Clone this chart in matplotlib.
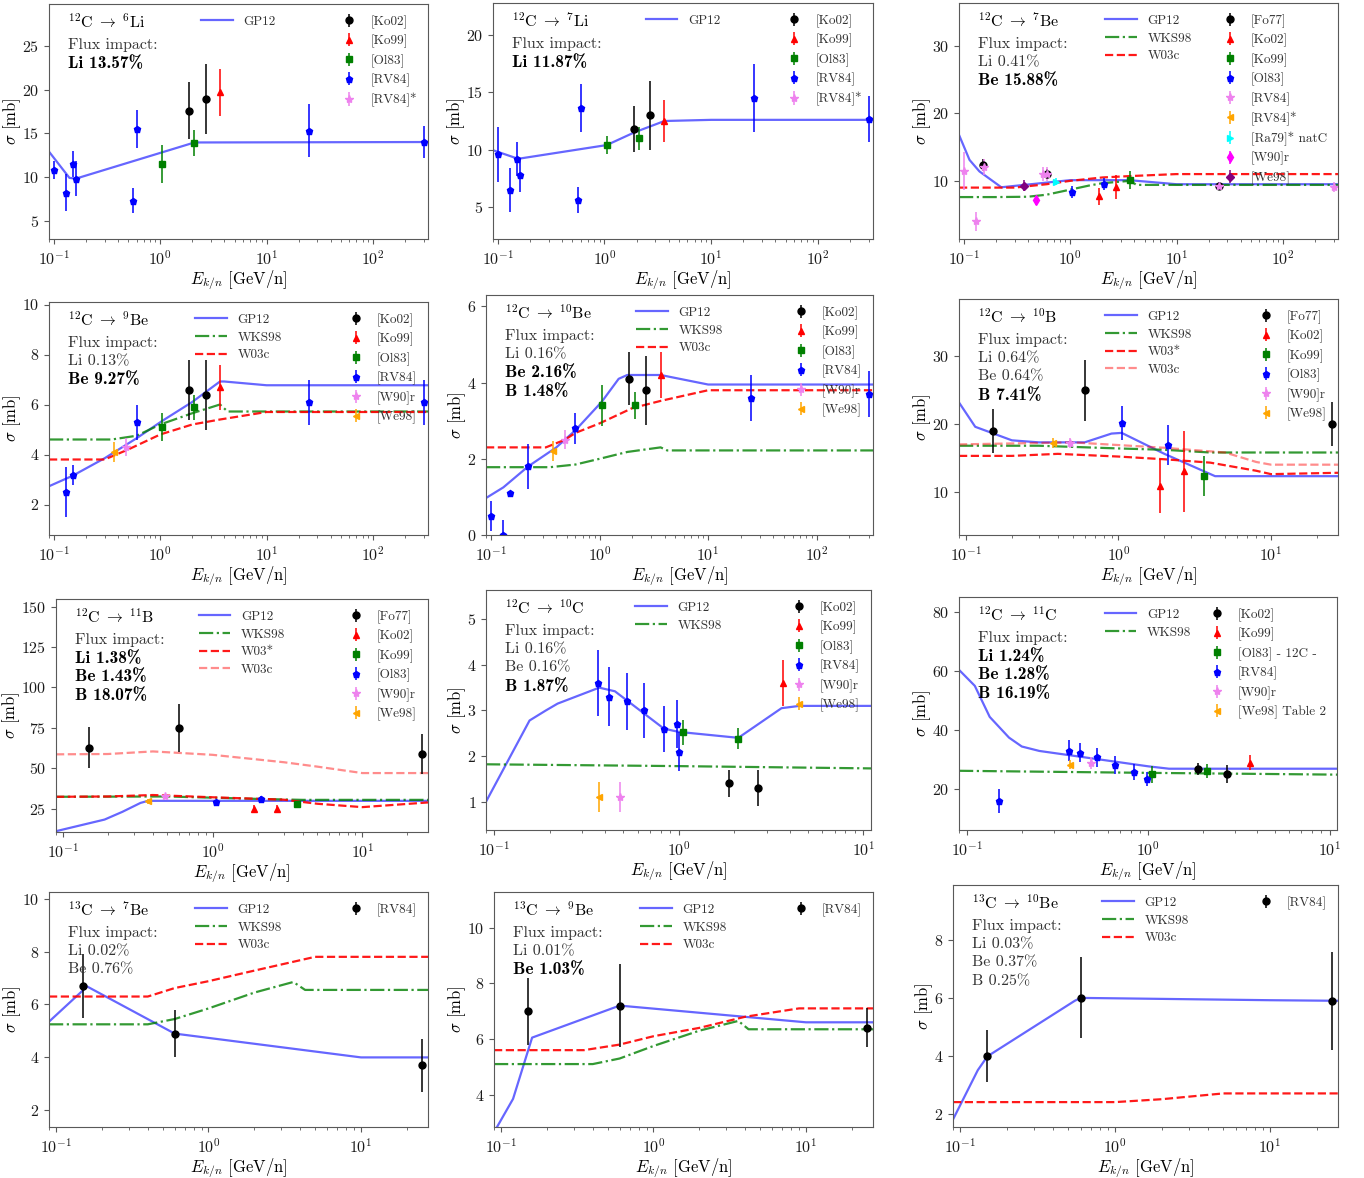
import matplotlib
matplotlib.use("Agg")
import matplotlib.pyplot as plt
from matplotlib.ticker import MultipleLocator

plt.rcParams.update({
    "font.family": "serif",
    "font.serif": ["cmr10"],
    "mathtext.fontset": "cm",
    "axes.unicode_minus": False,
    "axes.formatter.use_mathtext": True,
    "font.size": 10,
    "axes.edgecolor": "0.35",
    "xtick.color": "0.35",
    "ytick.color": "0.35",
    "xtick.labelcolor": "0.1",
    "ytick.labelcolor": "0.1",
})

# ---------------- 12C -> 6Li
li6_gp12_e = [0.09, 0.14, 0.16, 2.1, 330]
li6_gp12_s = [12.9, 9.9, 9.8, 13.95, 14.0]
li6_data = [
    ("[Ko02]", [1.88, 2.7], [17.6, 18.9], [3.3, 4.0]),
    ("[Ko99]", [3.65], [19.7], [2.7]),
    ("[Ol83]", [1.05, 2.1], [11.5, 13.9], [2.2, 1.5]),
    ("[RV84]", [0.1, 0.13, 0.15, 0.16, 0.56, 0.6, 25, 300],
     [10.8, 8.2, 11.5, 9.8, 7.3, 15.5, 15.3, 14.0],
     [1.0, 2.1, 1.5, 2.0, 1.4, 2.2, 3.0, 1.8]),
    ("[RV84]*", [], [], []),
]

# ---------------- 12C -> 7Li
li7_gp12_e = [0.09, 0.155, 1.05, 1.9, 3.65, 10, 330]
li7_gp12_s = [9.95, 9.2, 10.4, 11.5, 12.5, 12.6, 12.6]
li7_data = [
    ("[Ko02]", [1.88, 2.7], [11.8, 13.0], [2.0, 3.0]),
    ("[Ko99]", [3.65], [12.5], [1.8]),
    ("[Ol83]", [1.05, 2.1], [10.4, 11.0], [0.8, 1.0]),
    ("[RV84]", [0.1, 0.13, 0.15, 0.16, 0.56, 0.6, 25, 300],
     [9.6, 6.5, 9.2, 7.8, 5.6, 13.6, 14.5, 12.7],
     [2.4, 1.9, 1.5, 1.5, 1.1, 2.1, 3.0, 2.0]),
    ("[RV84]*", [], [], []),
]

# ---------------- 12C -> 7Be
be7_gp12_e = [0.09, 0.113, 0.14, 0.225, 1.0, 3.6, 10, 330]
be7_gp12_s = [16.8, 13.1, 11.4, 9.05, 10.1, 10.1, 9.5, 9.5]
be7_wks98_e = [0.09, 0.2, 0.4, 0.6, 1.0, 1.5, 2.0, 3.65, 4.2, 330]
be7_wks98_s = [7.6, 7.6, 7.65, 7.95, 8.7, 9.3, 9.65, 10.0, 9.4, 9.4]
be7_w03c_e = [0.09, 0.3, 0.6, 1.0, 2.0, 3.6, 10, 330]
be7_w03c_s = [9.0, 9.0, 9.5, 10.0, 10.5, 10.7, 11.0, 11.0]
be7_data = [
    ("[Fo77]", [0.15, 0.6, 25], [12.3, 11.0, 9.2], [0.9, 0.8, 0.6]),
    ("[Ko02]", [1.88, 2.7], [7.7, 9.1], [1.3, 1.8]),
    ("[Ko99]", [3.65], [10.1], [1.3]),
    ("[Ol83]", [1.05, 2.1], [8.4, 9.5], [0.9, 0.9]),
    ("[RV84]", [0.1, 0.13, 0.155, 0.56, 0.6, 25, 300],
     [11.5, 4.0, 12.0, 11.0, 11.0, 9.2, 9.1],
     [2.8, 1.4, 1.2, 1.0, 1.0, 0.6, 0.8]),
    ("[RV84]*", [], [], []),
    ("[Ra79]* natC", [0.73], [9.9], [0.5]),
    ("[W90]r", [0.48], [7.1], [0.6]),
    ("[We98]", [0.37], [9.3], [0.8]),
]

# ---------------- 12C -> 9Be
be9_gp12_e = [0.09, 0.15, 0.3, 0.6, 1.05, 2.0, 3.65, 4.0, 10, 330]
be9_gp12_s = [2.73, 3.15, 3.85, 4.65, 5.35, 6.1, 6.92, 6.92, 6.77, 6.77]
be9_wks98_e = [0.09, 0.35, 0.6, 1.0, 2.0, 3.65, 4.3, 330]
be9_wks98_s = [4.6, 4.6, 4.75, 5.2, 5.65, 6.0, 5.72, 5.72]
be9_w03c_e = [0.09, 0.3, 0.5, 1.0, 2.0, 3.65, 10, 330]
be9_w03c_s = [3.8, 3.8, 4.2, 4.8, 5.2, 5.4, 5.7, 5.7]
be9_data = [
    ("[Ko02]", [1.88, 2.7], [6.6, 6.4], [1.2, 1.4]),
    ("[Ko99]", [3.65], [6.7], [0.9]),
    ("[Ol83]", [1.05, 2.1], [5.1, 5.9], [0.55, 0.5]),
    ("[RV84]", [0.13, 0.15, 0.6, 25, 300], [2.5, 3.2, 5.3, 6.1, 6.1],
     [1.0, 0.4, 0.7, 0.9, 0.9]),
    ("[W90]r", [0.48], [4.3], [0.35]),
    ("[We98]", [0.37], [4.1], [0.4]),
]

# ---------------- 12C -> 10Be
be10_gp12_e = [0.09, 0.13, 0.22, 0.4, 0.6, 1.05, 1.5, 1.8, 3.65, 10, 330]
be10_gp12_s = [0.97, 1.25, 1.8, 2.3, 2.75, 3.5, 4.1, 4.2, 4.2, 3.95, 3.95]
be10_wks98_e = [0.09, 0.35, 0.6, 1.0, 1.8, 3.65, 4.2, 330]
be10_wks98_s = [1.78, 1.78, 1.85, 2.0, 2.18, 2.3, 2.22, 2.22]
be10_w03c_e = [0.09, 0.32, 0.48, 0.6, 1.0, 2.0, 3.65, 10, 330]
be10_w03c_s = [2.3, 2.3, 2.5, 2.68, 2.93, 3.33, 3.52, 3.8, 3.8]
be10_data = [
    ("[Ko02]", [1.88, 2.7], [4.1, 3.8], [0.7, 0.9]),
    ("[Ko99]", [3.65], [4.2], [0.6]),
    ("[Ol83]", [1.05, 2.1], [3.4, 3.4], [0.55, 0.35]),
    ("[RV84]", [0.1, 0.13, 0.15, 0.22, 0.6, 25, 300],
     [0.5, 0.0, 1.1, 1.8, 2.8, 3.6, 3.7],
     [0.4, 0.4, 0.05, 0.6, 0.4, 0.6, 0.6]),
    ("[W90]r", [0.48], [2.5], [0.25]),
    ("[We98]", [0.37], [2.2], [0.26]),
]

# ---------------- 12C -> 10B
b10_gp12_e = [0.09, 0.115, 0.2, 0.3, 0.6, 0.9, 1.05, 2.0, 4.3, 27.5]
b10_gp12_s = [23.2, 19.6, 17.6, 17.3, 17.3, 18.6, 18.7, 15.6, 12.3, 12.3]
b10_wks98_e = [0.09, 0.3, 1.0, 2.0, 4.0, 27.5]
b10_wks98_s = [16.8, 16.8, 16.4, 16.2, 15.8, 15.8]
b10_w03s_e = [0.09, 0.2, 0.4, 1.0, 2.0, 4.0, 8.0, 10, 27.5]
b10_w03s_s = [15.3, 15.3, 15.6, 15.2, 14.8, 14.3, 13.1, 12.6, 12.8]
b10_w03c_e = [0.09, 0.5, 1.0, 2.0, 5.0, 8.0, 10, 27.5]
b10_w03c_s = [17.0, 17.3, 16.9, 16.5, 15.8, 14.4, 14.0, 14.0]
b10_data = [
    ("[Fo77]", [0.15, 0.6, 25], [19.0, 25.0, 20.0], [3.3, 4.5, 3.2]),
    ("[Ko02]", [1.88, 2.7], [10.9, 13.0], [4.0, 6.0]),
    ("[Ko99]", [3.65], [12.3], [3.0]),
    ("[Ol83]", [1.05, 2.1], [20.2, 16.9], [2.5, 3.0]),
    ("[W90]r", [0.48], [17.2], [0.8]),
    ("[We98]", [0.37], [17.2], [0.8]),
]

# ---------------- 12C -> 11B
b11_gp12_e = [0.09, 0.19, 0.25, 0.33, 0.37, 27.5]
b11_gp12_s = [11.0, 18.2, 23.0, 28.5, 29.8, 29.8]
b11_wks98_e = [0.09, 0.5, 2.0, 4.0, 27.5]
b11_wks98_s = [32.3, 32.5, 31.0, 30.4, 30.4]
b11_w03s_e = [0.09, 0.2, 0.4, 1.0, 3.0, 5.0, 10, 27.5]
b11_w03s_s = [32.3, 32.5, 33.4, 32.0, 30.5, 28.0, 25.9, 28.8]
b11_w03c_e = [0.09, 0.2, 0.4, 1.0, 3.0, 5.0, 10, 27.5]
b11_w03c_s = [58.6, 58.8, 60.4, 58.3, 53.7, 51.0, 47.0, 47.0]
b11_data = [
    ("[Fo77]", [0.15, 0.6, 25], [62.8, 75.0, 58.7], [12.7, 15.0, 12.4]),
    ("[Ko02]", [1.88, 2.7], [25.0, 25.0], [2.0, 2.5]),
    ("[Ko99]", [3.65], [27.7], [2.0]),
    ("[Ol83]", [1.05, 2.1], [29.1, 30.8], [1.5, 2.0]),
    ("[W90]r", [0.48], [32.6], [1.5]),
    ("[We98]", [0.37], [29.5], [1.5]),
]

# ---------------- 12C -> 10C
c10_gp12_e = [0.09, 0.155, 0.19, 0.22, 0.37, 0.45, 0.83, 1.0, 2.1, 3.6, 4.5, 11]
c10_gp12_s = [1.0, 2.78, 3.0, 3.15, 3.5, 3.42, 2.6, 2.53, 2.4, 3.05, 3.1, 3.1]
c10_wks98_e = [0.09, 1.0, 11]
c10_wks98_s = [1.82, 1.78, 1.73]
c10_data = [
    ("[Ko02]", [1.88, 2.7], [1.4, 1.3], [0.3, 0.4]),
    ("[Ko99]", [3.65], [3.6], [0.5]),
    ("[Ol83]", [1.05, 2.1], [2.52, 2.38], [0.27, 0.23]),
    ("[RV84]", [0.366, 0.42, 0.52, 0.65, 0.83, 0.98, 1.0],
     [3.6, 3.3, 3.2, 3.0, 2.6, 2.7, 2.1],
     [0.72, 0.65, 0.63, 0.6, 0.5, 0.53, 0.42]),
    ("[W90]r", [0.48], [1.1], [0.33]),
    ("[We98]", [0.37], [1.1], [0.33]),
]

# ---------------- 12C -> 11C
c11_gp12_e = [0.09, 0.11, 0.133, 0.17, 0.2, 0.25, 0.5, 1.0, 1.3, 11]
c11_gp12_s = [60.4, 55.0, 44.5, 37.5, 34.5, 33.0, 30.4, 27.8, 27.0, 27.0]
c11_wks98_e = [0.09, 1.0, 11]
c11_wks98_s = [26.3, 25.6, 25.0]
c11_data = [
    ("[Ko02]", [1.88, 2.7], [26.9, 25.1], [2.0, 3.0]),
    ("[Ko99]", [3.65], [29.0], [2.5]),
    ("[Ol83] - 12C -", [1.05, 2.1], [25.1, 26.2], [2.8, 2.5]),
    ("[RV84]", [0.15, 0.366, 0.42, 0.52, 0.65, 0.83, 0.98],
     [16.1, 33.1, 32.4, 30.8, 28.2, 26.0, 23.5],
     [4.0, 3.6, 3.3, 3.2, 3.0, 2.7, 2.3]),
    ("[W90]r", [0.48], [28.8], [2.0]),
    ("[We98] Table 2", [0.37], [28.4], [1.5]),
]

# ---------------- 13C -> 7Be
be7b_gp12_e = [0.09, 0.16, 0.6, 10, 27.5]
be7b_gp12_s = [5.35, 6.68, 4.9, 4.0, 4.0]
be7b_wks98_e = [0.09, 0.4, 0.6, 1.0, 2.0, 3.6, 4.3, 27.5]
be7b_wks98_s = [5.25, 5.25, 5.45, 5.85, 6.45, 6.85, 6.55, 6.55]
be7b_w03c_e = [0.09, 0.4, 0.6, 1.0, 2.0, 5.0, 27.5]
be7b_w03c_s = [6.3, 6.3, 6.62, 6.88, 7.28, 7.8, 7.8]
be7b_data = [("[RV84]", [0.15, 0.6, 25], [6.7, 4.9, 3.7], [1.2, 0.9, 1.0])]

# ---------------- 13C -> 9Be
be9b_gp12_e = [0.09, 0.12, 0.16, 0.6, 10, 27.5]
be9b_gp12_s = [2.65, 3.85, 6.05, 7.2, 6.6, 6.6]
be9b_wks98_e = [0.09, 0.4, 0.6, 1.0, 2.0, 3.6, 4.2, 27.5]
be9b_wks98_s = [5.1, 5.1, 5.3, 5.75, 6.3, 6.65, 6.35, 6.35]
be9b_w03c_e = [0.09, 0.35, 0.6, 1.0, 2.0, 4.0, 9.0, 27.5]
be9b_w03c_s = [5.6, 5.6, 5.8, 6.1, 6.4, 6.8, 7.1, 7.1]
be9b_data = [("[RV84]", [0.15, 0.6, 25], [7.0, 7.2, 6.4], [1.2, 1.5, 0.7])]

# ---------------- 13C -> 10Be
be10b_gp12_e = [0.09, 0.13, 0.15, 0.55, 0.6, 10, 27.5]
be10b_gp12_s = [1.8, 3.5, 3.98, 5.9, 6.0, 5.92, 5.9]
be10b_w03c_e = [0.09, 1.0, 2.0, 5.0, 27.5]
be10b_w03c_s = [2.4, 2.4, 2.5, 2.7, 2.7]
be10b_data = [("[RV84]", [0.15, 0.6, 25], [4.0, 6.0, 5.9], [0.9, 1.4, 1.7])]

# titles and flux-impact lines (text, bold)
reactions = [("12", "6", "Li"), ("12", "7", "Li"), ("12", "7", "Be"), ("12", "9", "Be"),
             ("12", "10", "Be"), ("12", "10", "B"), ("12", "11", "B"), ("12", "10", "C"),
             ("12", "11", "C"), ("13", "7", "Be"), ("13", "9", "Be"), ("13", "10", "Be")]
impacts = [
    [("Li 13.57%", True)],
    [("Li 11.87%", True)],
    [("Li 0.41%", False), ("Be 15.88%", True)],
    [("Li 0.13%", False), ("Be 9.27%", True)],
    [("Li 0.16%", False), ("Be 2.16%", True), ("B 1.48%", True)],
    [("Li 0.64%", False), ("Be 0.64%", False), ("B 7.41%", True)],
    [("Li 1.38%", True), ("Be 1.43%", True), ("B 18.07%", True)],
    [("Li 0.16%", False), ("Be 0.16%", False), ("B 1.87%", True)],
    [("Li 1.24%", True), ("Be 1.28%", True), ("B 16.19%", True)],
    [("Li 0.02%", False), ("Be 0.76%", False)],
    [("Li 0.01%", False), ("Be 1.03%", True)],
    [("Li 0.03%", False), ("Be 0.37%", False), ("B 0.25%", False)],
]

models = [
    [("GP12", li6_gp12_e, li6_gp12_s)],
    [("GP12", li7_gp12_e, li7_gp12_s)],
    [("GP12", be7_gp12_e, be7_gp12_s), ("WKS98", be7_wks98_e, be7_wks98_s),
     ("W03c", be7_w03c_e, be7_w03c_s)],
    [("GP12", be9_gp12_e, be9_gp12_s), ("WKS98", be9_wks98_e, be9_wks98_s),
     ("W03c", be9_w03c_e, be9_w03c_s)],
    [("GP12", be10_gp12_e, be10_gp12_s), ("WKS98", be10_wks98_e, be10_wks98_s),
     ("W03c", be10_w03c_e, be10_w03c_s)],
    [("GP12", b10_gp12_e, b10_gp12_s), ("WKS98", b10_wks98_e, b10_wks98_s),
     ("W03*", b10_w03s_e, b10_w03s_s), ("W03c", b10_w03c_e, b10_w03c_s)],
    [("GP12", b11_gp12_e, b11_gp12_s), ("WKS98", b11_wks98_e, b11_wks98_s),
     ("W03*", b11_w03s_e, b11_w03s_s), ("W03c", b11_w03c_e, b11_w03c_s)],
    [("GP12", c10_gp12_e, c10_gp12_s), ("WKS98", c10_wks98_e, c10_wks98_s)],
    [("GP12", c11_gp12_e, c11_gp12_s), ("WKS98", c11_wks98_e, c11_wks98_s)],
    [("GP12", be7b_gp12_e, be7b_gp12_s), ("WKS98", be7b_wks98_e, be7b_wks98_s),
     ("W03c", be7b_w03c_e, be7b_w03c_s)],
    [("GP12", be9b_gp12_e, be9b_gp12_s), ("WKS98", be9b_wks98_e, be9b_wks98_s),
     ("W03c", be9b_w03c_e, be9b_w03c_s)],
    [("GP12", be10b_gp12_e, be10b_gp12_s), ("WKS98", [], []),
     ("W03c", be10b_w03c_e, be10b_w03c_s)],
]
datasets = [li6_data, li7_data, be7_data, be9_data, be10_data, b10_data,
            b11_data, c10_data, c11_data, be7b_data, be9b_data, be10b_data]

# layout: axes boxes in pixels (left, top, right, bottom), x/y limits, y tick step
boxes = [
    (49, 4, 428, 239), (493, 3, 873, 239), (959, 3, 1338, 239),
    (49, 302, 428, 535), (486, 295, 873, 535), (959, 299, 1338, 535),
    (56, 599, 428, 832), (486, 590, 871, 830), (959, 597, 1337, 830),
    (49, 892, 428, 1127), (494, 892, 873, 1127), (953, 885, 1338, 1127),
]
xlims = [(0.09, 330)] * 5 + [(0.09, 27.5)] * 2 + [(0.09, 11)] * 2 + [(0.09, 27.5)] * 3
ylims = [(2.9, 29.8), (2.2, 22.8), (1.4, 36.3), (0.78, 10.1), (0, 6.3), (3.6, 38.5),
         (10.5, 154.8), (0.38, 5.64), (6.3, 85), (1.37, 10.25), (2.84, 11.28), (1.54, 9.9)]
ysteps = [5, 5, 10, 2, 2, 10, 25, 1, 20, 2, 2, 2]

model_styles = [("blue", "-", 0.6), ("green", "-.", 0.8), ("red", "--", 0.9), ("red", "--", 0.45)]
data_colors = ["black", "red", "green", "blue", "violet", "orange", "cyan", "magenta", "purple"]
data_markers = ["o", "^", "s", "p", "*", "<", ">", "d", "D"]

W, H = 1364, 1178
fig = plt.figure(figsize=(W / 100, H / 100), dpi=100)

for i in range(12):
    l, t, r, b = boxes[i]
    ax = fig.add_axes([l / W, 1 - b / H, (r - l) / W, (b - t) / H])
    ax.set_xscale("log")

    mh = []
    for j, (lab, e, s) in enumerate(models[i]):
        c, ls, a = model_styles[j]
        h, = ax.plot(e, s, color=c, ls=ls, alpha=a, lw=1.6, label=lab)
        mh.append(h)

    dh = []
    for j, (lab, e, s, err) in enumerate(datasets[i]):
        ms = {"*": 6, "D": 4}.get(data_markers[j], 5)
        h = ax.errorbar(e, s, yerr=err, fmt=data_markers[j], color=data_colors[j],
                        ms=ms, elinewidth=1.1, capsize=0, label=lab)
        dh.append(h)

    ax.set_xlim(*xlims[i])
    ax.set_ylim(*ylims[i])
    ax.yaxis.set_major_locator(MultipleLocator(ysteps[i]))
    ax.set_xlabel(r"$E_{k/n}$ [GeV/n]", fontsize=12, labelpad=1)
    ax.set_ylabel(r"$\sigma$ [mb]", fontsize=12, labelpad=-1)
    ax.tick_params(labelsize=11.5)

    leg1 = ax.legend(handles=mh, loc="upper center", frameon=False, fontsize=9.5,
                     handlelength=2.4, borderaxespad=0.5, labelspacing=0.4)
    for txt in leg1.get_texts():
        txt.set_color("0.2")
    ax.add_artist(leg1)
    leg2 = ax.legend(handles=dh, loc="upper right", frameon=False, fontsize=9.5,
                     borderaxespad=0.45, labelspacing=0.45, handletextpad=0.6)
    for txt in leg2.get_texts():
        txt.set_color("0.2")

    pa, pb, el = reactions[i]
    title = r"$^{%s}\mathrm{C}\;\rightarrow\;^{%s}\mathrm{%s}$" % (pa, pb, el)
    ax.annotate(title, xy=(0, 1), xycoords="axes fraction", xytext=(14, -12.7),
                textcoords="offset points", va="center", fontsize=11.5)
    ax.annotate("Flux impact:", xy=(0, 1), xycoords="axes fraction", xytext=(14, -29.5),
                textcoords="offset points", va="center", fontsize=11.5, color="0.2")
    for k, (txt, bold) in enumerate(impacts[i]):
        ax.annotate(txt, xy=(0, 1), xycoords="axes fraction",
                    xytext=(14, -42.7 - 13.4 * k), textcoords="offset points",
                    va="center", fontsize=12.5 if bold else 11.5,
                    family="cmb10" if bold else "cmr10",
                    color="black" if bold else "0.2")

fig.savefig("out.png", dpi=100)
